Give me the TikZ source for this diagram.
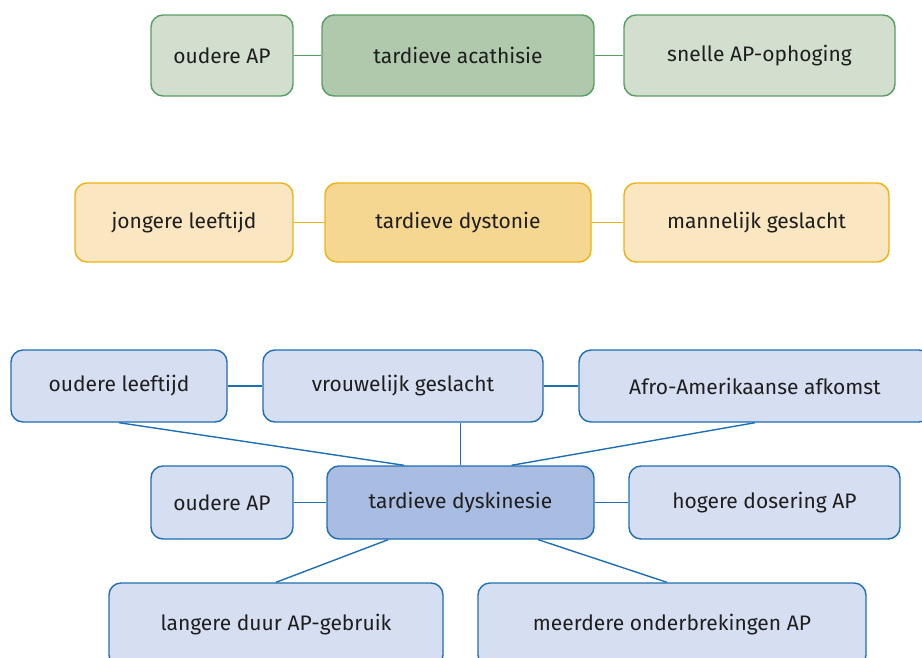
\documentclass[tikz,border=0pt]{standalone}
\usepackage{fontspec}
\setmainfont{Fira Sans}
\usepackage{xcolor}
\definecolor{acline}{RGB}{88,158,96}
\definecolor{acfill}{RGB}{210,223,206}
\definecolor{acmain}{RGB}{176,201,172}
\definecolor{dyline}{RGB}{236,178,18}
\definecolor{dyfill}{RGB}{250,230,192}
\definecolor{dymain}{RGB}{245,215,146}
\definecolor{tdline}{RGB}{30,110,180}
\definecolor{tdfill}{RGB}{214,223,242}
\definecolor{tdmain}{RGB}{169,189,226}
\definecolor{txt}{RGB}{30,30,30}
\usetikzlibrary{positioning,calc}

\begin{document}
\begin{tikzpicture}[
  x=1pt,y=-1pt,
  every node/.style={font=\fontsize{21}{25}\selectfont,text=txt},
  riskbox/.style={draw,rounded corners=12pt,line width=1.4pt,align=center,inner sep=4pt},
  acbox/.style={riskbox,draw=acline,fill=acfill,minimum height=81pt},
  dybox/.style={riskbox,draw=dyline,fill=dyfill,minimum height=79pt},
  tdbox/.style={riskbox,draw=tdline,fill=tdfill,minimum height=72pt},
  link/.style={line width=1.4pt},
]
  \useasboundingbox (0,0) rectangle (922,657);

  % Tardieve acathisie
  \node[acbox,minimum width=142pt] (acOud) at (222,55.5) {oudere AP};
  \node[acbox,fill=acmain,minimum width=272pt] (acMain) at (458,55.5) {tardieve acathisie};
  \node[acbox,minimum width=271pt] (acSnel) at (759.5,55.5) {snelle AP-ophoging};
  \draw[link,acline] (acOud) -- (acMain);
  \draw[link,acline] (acMain) -- (acSnel);

  % Tardieve dystonie
  \node[dybox,minimum width=218pt] (dyJong) at (184,222.5) {jongere leeftijd};
  \node[dybox,fill=dymain,minimum width=266pt] (dyMain) at (458,222.5) {tardieve dystonie};
  \node[dybox,minimum width=265pt] (dyMan) at (756.5,222.5) {mannelijk geslacht};
  \draw[link,dyline] (dyJong) -- (dyMain);
  \draw[link,dyline] (dyMain) -- (dyMan);

  % Tardieve dyskinesie
  \node[tdbox,minimum width=216pt] (tdLeef) at (119,386) {oudere leeftijd};
  \node[tdbox,minimum width=280pt] (tdVrouw) at (403,386) {vrouwelijk geslacht};
  \node[tdbox,minimum width=352pt] (tdAfro) at (755,386) {Afro-Amerikaanse afkomst};
  \node[tdbox,minimum width=142pt,minimum height=73pt] (tdOudAP) at (222,502.5) {oudere AP};
  \node[tdbox,fill=tdmain,minimum width=267pt,minimum height=73pt] (tdMain) at (460.5,502.5) {tardieve dyskinesie};
  \node[tdbox,minimum width=271pt,minimum height=73pt] (tdDosis) at (764.5,502.5) {hogere dosering AP};
  \node[tdbox,minimum width=334pt,minimum height=84pt] (tdDuur) at (276,625) {langere duur AP-gebruik};
  \node[tdbox,minimum width=388pt,minimum height=84pt] (tdOnder) at (672,625) {meerdere onderbrekingen AP};

  \draw[link,tdline] (tdLeef) -- (tdVrouw);
  \draw[link,tdline] (tdVrouw) -- (tdAfro);
  \draw[link,tdline] (tdOudAP) -- (tdMain);
  \draw[link,tdline] (tdMain) -- (tdDosis);
  \draw[link,tdline] (tdLeef.south) -- ($(tdMain.north west)!0.29!(tdMain.north east)$);
  \draw[link,tdline] (tdMain.north) -- (tdMain.north |- tdVrouw.south);
  \draw[link,tdline] (tdAfro.south) -- ($(tdMain.north west)!0.69!(tdMain.north east)$);
  \draw[link,tdline] ($(tdMain.south west)!0.23!(tdMain.south east)$) -- (tdDuur.north);
  \draw[link,tdline] ($(tdMain.south west)!0.79!(tdMain.south east)$) -- ($(tdOnder.north west)!0.487!(tdOnder.north east)$);
\end{tikzpicture}
\end{document}
